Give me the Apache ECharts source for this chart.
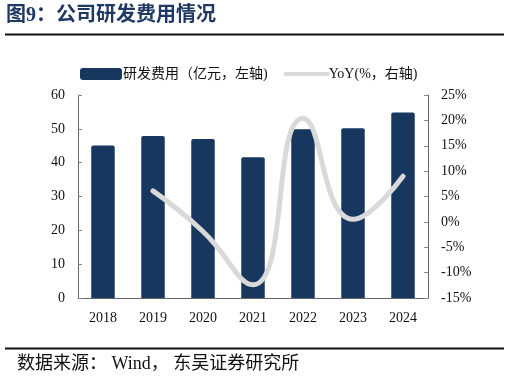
<!DOCTYPE html>
<html>
<head>
<meta charset="utf-8">
<script src="https://cdn.jsdelivr.net/npm/echarts@6/dist/echarts.min.js"></script>
<style>
  html, body { margin: 0; padding: 0; background: #fff; }
  #chart { width: 509px; height: 382px; }
</style>
</head>
<body>
<div id="chart"></div>
<script>
// 数据
const years = ['2018', '2019', '2020', '2021', '2022', '2023', '2024'];
const rdExpense = [45.1, 47.9, 47.0, 41.6, 49.9, 50.2, 54.8];
const yoy = [null, 6.1, -1.9, -12.4, 20.4, 0.5, 9.0];

const serif = '"Liberation Serif", "Noto Sans CJK SC", serif';

const chart = echarts.init(document.getElementById('chart'));

const option = {
  animation: false,
  textStyle: { fontFamily: serif },
  graphic: [
    {
      type: 'text', left: 6, top: 6,
      style: { text: '图9：公司研发费用情况', fontSize: 20, fontWeight: 'bold', fill: '#1f3864', fontFamily: serif }
    },
    {
      type: 'line', shape: { x1: 5, y1: 34.5, x2: 504, y2: 34.5 },
      style: { stroke: '#111', lineWidth: 2 }
    },
    {
      type: 'line', shape: { x1: 5, y1: 348.5, x2: 504, y2: 348.5 },
      style: { stroke: '#111', lineWidth: 2 }
    },
    {
      type: 'text', left: 17, top: 355,
      style: { text: '数据来源： Wind， 东吴证券研究所', fontSize: 18, fill: '#111', fontFamily: serif }
    }
  ],
  legend: {
    top: 67,
    left: 80,
    padding: 0,
    itemGap: 16,
    itemWidth: 42,
    itemHeight: 12,
    textStyle: { fontSize: 14, color: '#111', fontFamily: serif, padding: [0, 0, 0, -4] },
    data: [
      { name: '研发费用（亿元，左轴)', icon: 'roundRect' },
      {
        name: 'YoY(%，右轴)',
        itemStyle: { opacity: 0 },
        lineStyle: { width: 4, color: '#d9d9d9', cap: 'round' }
      }
    ]
  },
  grid: { left: 78, right: 81, top: 95, bottom: 84 },
  xAxis: {
    type: 'category',
    data: years,
    axisLine: { lineStyle: { color: '#666' } },
    axisTick: { inside: true, length: 5, lineStyle: { color: '#888' } },
    axisLabel: { color: '#111', fontSize: 14, margin: 13 }
  },
  yAxis: [
    {
      type: 'value', min: 0, max: 60, interval: 10,
      splitLine: { show: false },
      axisLine: { show: true, lineStyle: { color: '#666' } },
      axisTick: { show: true, inside: true, length: 4, lineStyle: { color: '#888' } },
      axisLabel: { color: '#111', fontSize: 14, margin: 13 }
    },
    {
      type: 'value', min: -15, max: 25, interval: 5,
      splitLine: { show: false },
      axisLine: { show: true, lineStyle: { color: '#666' } },
      axisTick: { show: true, inside: true, length: 4, lineStyle: { color: '#888' } },
      axisLabel: { color: '#111', fontSize: 14, margin: 13, formatter: '{value}%' }
    }
  ],
  series: [
    {
      name: '研发费用（亿元，左轴)',
      type: 'bar',
      data: rdExpense,
      barWidth: '47%',
      itemStyle: { color: '#17375e', borderRadius: [2, 2, 0, 0] }
    },
    {
      name: 'YoY(%，右轴)',
      type: 'line',
      yAxisIndex: 1,
      data: yoy,
      smooth: 0.5,
      symbol: 'none',
      lineStyle: { color: '#d9d9d9', width: 5, cap: 'round' },
      itemStyle: { color: '#d9d9d9' }
    }
  ]
};

chart.setOption(option);
</script>
</body>
</html>
